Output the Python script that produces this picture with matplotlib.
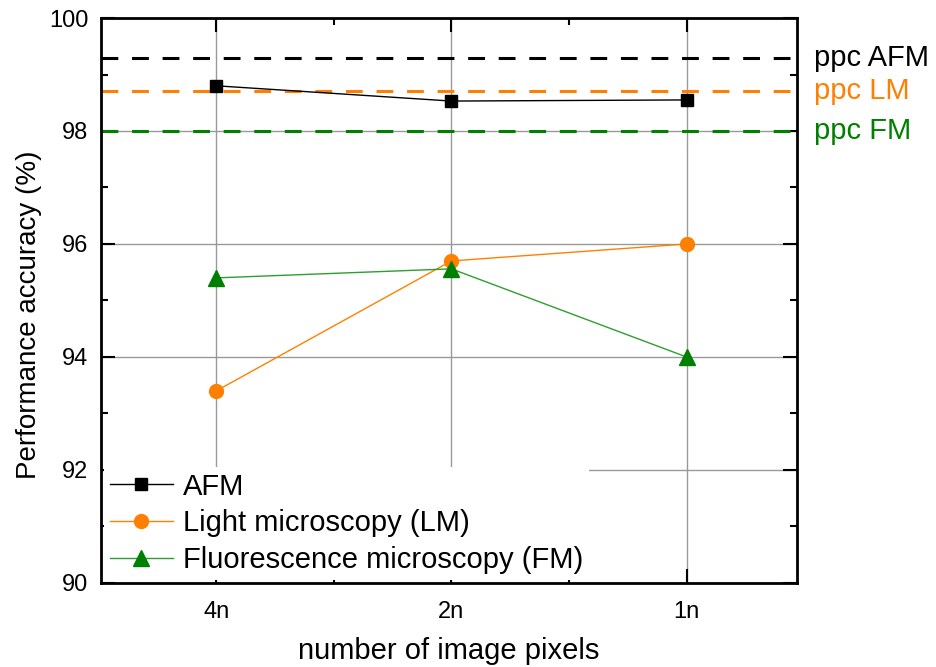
import matplotlib
matplotlib.use("Agg")
import matplotlib.pyplot as plt
from matplotlib.ticker import MultipleLocator, FixedLocator

plt.rcParams['font.family'] = ['Liberation Sans', 'DejaVu Sans']

categories = ["4n", "2n", "1n"]
afm = [98.80, 98.53, 98.55]
lm = [93.40, 95.70, 96.00]
fm = [95.40, 95.56, 94.00]

ppc_labels = ["ppc AFM", "ppc LM", "ppc FM"]
ppc_values = [99.3, 98.7, 98.0]

black = "#000000"
orange = "#FF8000"
green = "#008000"
green_line = "#2E9E2E"
ppc_colors = [black, orange, green]

fig = plt.figure(figsize=(9.36, 6.67), dpi=100)
ax = fig.add_axes([0.108, 0.126, 0.7435, 0.847])

x = list(range(len(categories)))

# reference levels
for val, col in zip(ppc_values, ppc_colors):
    ax.axhline(val, xmin=0.0, xmax=0.99, color=col, lw=2.2, ls=(0, (5.5, 4.5)), zorder=2)

ax.plot(x, afm, color=black, lw=1.0, marker='s', ms=8.5, mfc=black, mec=black,
        label="AFM", zorder=4)
ax.plot(x, lm, color=orange, lw=1.0, marker='o', ms=10, mfc=orange, mec=orange,
        label="Light microscopy (LM)", zorder=4)
ax.plot(x, fm, color=green_line, lw=1.0, marker='^', ms=11, mfc=green, mec=green,
        label="Fluorescence microscopy (FM)", zorder=4)

ax.set_xlim(-0.49, 2.47)
ax.set_ylim(90, 100)
ax.set_xticks(x)
ax.set_xticklabels(categories)
ax.xaxis.set_minor_locator(FixedLocator([0.5, 1.5]))
ax.yaxis.set_major_locator(MultipleLocator(2))
ax.yaxis.set_minor_locator(MultipleLocator(1))

ax.grid(True, which='major', color='#999999', lw=1.0, zorder=1)
ax.set_axisbelow(True)

ax.tick_params(which='both', direction='in', top=True, right=True,
               labelsize=17, width=1.5, colors=black)
ax.tick_params(which='major', length=10)
ax.tick_params(axis='x', which='major', pad=13)
ax.tick_params(axis='y', which='major', pad=9)
ax.tick_params(which='minor', length=5)
for s in ax.spines.values():
    s.set_linewidth(2.0)

ax.set_xlabel("number of image pixels", fontsize=21, labelpad=10)
ax.set_ylabel("Performance accuracy (%)", fontsize=20)
ax.yaxis.set_label_coords(-0.085, 0.474)

# labels for reference levels, right of the axes
for lab, val, col in zip(ppc_labels, ppc_values, ppc_colors):
    ax.annotate(lab, xy=(1.0, val), xycoords=('axes fraction', 'data'),
                xytext=(17, 0), textcoords='offset pixels',
                va='center', ha='left', fontsize=21, color=col, annotation_clip=False)

leg = ax.legend(loc='lower left', bbox_to_anchor=(0.0, 0.0), fontsize=21,
                frameon=True, framealpha=1.0, edgecolor='none', facecolor='white',
                handlelength=2.15, handletextpad=0.35, labelspacing=0.3,
                borderaxespad=0.1, borderpad=0.2, fancybox=False)
leg.set_zorder(5)

fig.savefig("out.png", dpi=100)
